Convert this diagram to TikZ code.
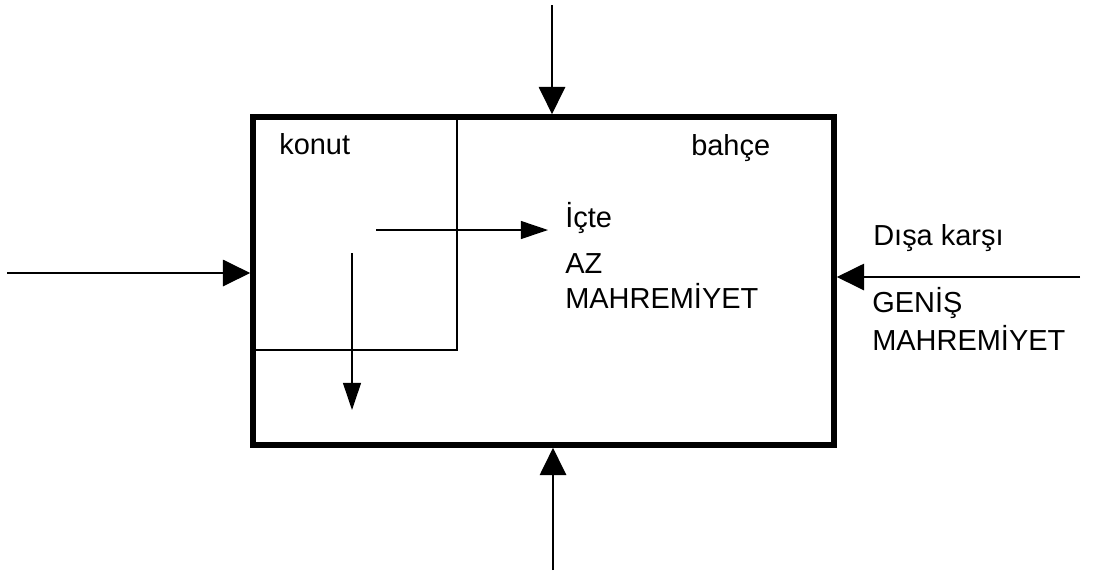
\documentclass[tikz,border=0pt]{standalone}
\usepackage{fontspec}
\setmainfont{Liberation Sans}
\usetikzlibrary{arrows.meta}

\begin{document}
\begin{tikzpicture}
\tikzset{lbl/.style={anchor=base west, inner sep=0pt, font=\fontsize{20.6}{24}\selectfont},
frame/.style={draw, rectangle, line width=4pt, minimum width=14.525cm, minimum height=8.2cm},
bigarrow/.style={-{Triangle[length=6.8mm,width=6.6mm]}, line width=1pt},
smallarrow/.style={-{Triangle[length=6.8mm,width=4.5mm]}, line width=1pt}}

\useasboundingbox (0,0) rectangle (27.375,-14.25);

% Garden frame
\node[frame] (bahce) at (13.5875,-7.025) {};

% House corner inside the garden
\coordinate (konutcorner) at (11.425,-8.75);
\draw[line width=1.2pt] (konutcorner |- bahce.north) -- (konutcorner) -- (konutcorner -| bahce.west);

% Labels
\node[lbl] (konut) at (6.975,-3.85) {konut};
\node[lbl] (bahcelbl) at (17.275,-3.875) {bahçe};
\node[lbl] (icte) at (14.125,-5.675) {İçte};
\node[lbl] (az) at (14.125,-6.825) {AZ};
\node[lbl] (azmah) at (14.125,-7.7) {MAHREMİYET};
\node[lbl] (disa) at (21.825,-6.125) {Dışa karşı};
\node[lbl] (genis) at (21.8,-7.8) {GENİŞ};
\node[lbl] (genismah) at (21.8,-8.75) {MAHREMİYET};

% Free ends of the arrows
\coordinate (topin) at (13.8,-0.125);
\coordinate (botin) at (13.825,-14.25);
\coordinate (leftin) at (0.175,-6.825);
\coordinate (rightin) at (27.0,-6.925);
\coordinate (hstart) at (9.4,-5.75);
\coordinate (hend) at (13.7,-5.75);
\coordinate (vstart) at (8.8,-6.325);
\coordinate (vend) at (8.8,-10.25);

% Connections
\draw[bigarrow] (topin) -- (topin |- bahce.north);
\draw[bigarrow] (botin) -- (botin |- bahce.south);
\draw[bigarrow] (leftin) -- (leftin -| bahce.west);
\draw[bigarrow] (rightin) -- (rightin -| bahce.east);

\draw[smallarrow] (hstart) -- (hend);
\draw[smallarrow] (vstart) -- (vend);

\end{tikzpicture}
\end{document}
